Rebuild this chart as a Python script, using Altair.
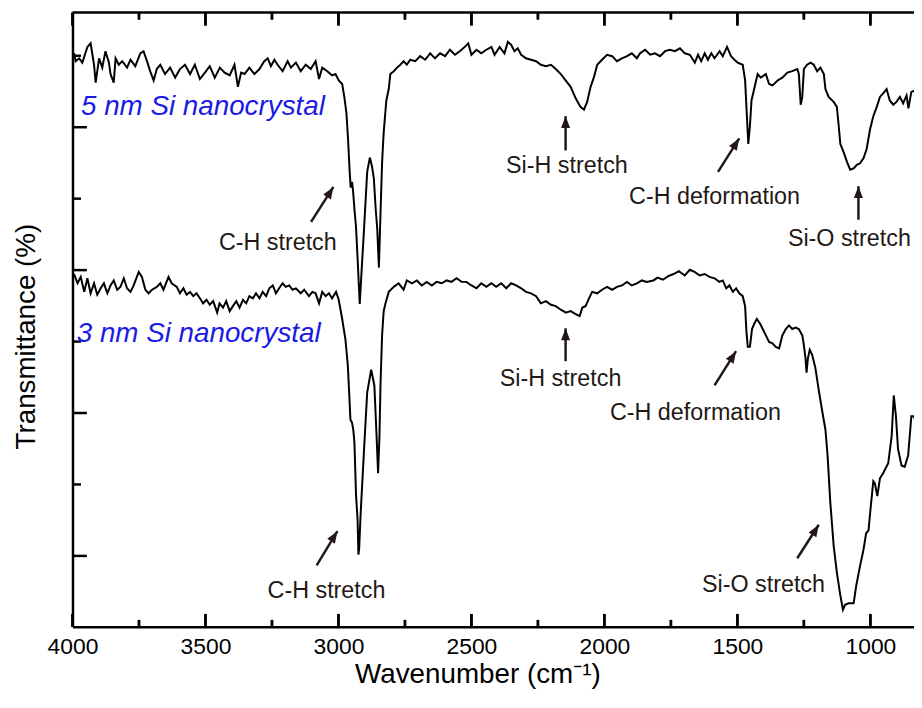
import altair as alt
import pandas as pd

# ---------------- data ----------------
wn_5nm = [3994, 3988, 3975, 3963, 3944, 3932, 3919, 3913, 3900, 3888, 3876, 3863, 3857, 3845, 3838, 3826,
          3813, 3795, 3782, 3764, 3745, 3733, 3720, 3708, 3695, 3683, 3670, 3652, 3633, 3614, 3596, 3577,
          3558, 3540, 3521, 3502, 3484, 3465, 3446, 3428, 3409, 3391, 3378, 3366, 3353, 3335, 3316, 3297,
          3279, 3266, 3254, 3241, 3229, 3210, 3191, 3179, 3160, 3142, 3123, 3104, 3086, 3073, 3061, 3042,
          3024, 3011, 2999, 2986, 2978, 2970, 2964, 2958, 2954, 2949, 2945, 2940, 2934, 2928, 2920, 2912,
          2904, 2892, 2882, 2874, 2867, 2860, 2854, 2848, 2842, 2836, 2830, 2820, 2811, 2805, 2792, 2780,
          2767, 2755, 2743, 2730, 2711, 2693, 2674, 2655, 2637, 2618, 2599, 2581, 2562, 2544, 2525, 2512,
          2500, 2481, 2463, 2444, 2425, 2413, 2394, 2376, 2363, 2351, 2338, 2326, 2313, 2295, 2276, 2257,
          2239, 2220, 2201, 2183, 2164, 2146, 2127, 2108, 2090, 2077, 2065, 2052, 2040, 2027, 2009, 1990,
          1971, 1953, 1934, 1915, 1897, 1878, 1866, 1847, 1828, 1810, 1791, 1772, 1754, 1735, 1716, 1698,
          1679, 1660, 1648, 1636, 1623, 1611, 1598, 1586, 1567, 1555, 1539, 1524, 1511, 1499, 1480, 1471,
          1465, 1459, 1453, 1447, 1437, 1424, 1412, 1393, 1381, 1368, 1349, 1331, 1312, 1294, 1275, 1269,
          1262, 1256, 1250, 1238, 1225, 1213, 1200, 1188, 1175, 1169, 1157, 1138, 1126, 1119, 1113, 1101,
          1088, 1076, 1063, 1051, 1039, 1026, 1014, 1001, 989, 976, 964, 952, 939, 927, 914, 902,
          889, 877, 864, 857, 846, 832]
t_5nm = [80.3, 79.2, 79.6, 79.0, 81.2, 81.7, 78.7, 76.2, 79.6, 78.3, 80.6, 79.0, 77.4, 76.2, 79.6, 78.7,
         79.2, 78.3, 79.4, 78.5, 80.3, 80.6, 79.2, 77.8, 76.5, 78.1, 78.7, 77.4, 78.3, 76.9, 78.1, 78.7,
         77.4, 78.7, 76.7, 77.6, 78.5, 76.9, 78.3, 77.6, 77.2, 78.7, 75.6, 77.6, 77.4, 78.3, 77.4, 78.1,
         79.2, 79.6, 78.5, 79.4, 78.7, 77.8, 79.2, 78.3, 79.0, 77.8, 78.7, 78.1, 79.2, 76.7, 78.3, 77.8,
         77.2, 77.4, 76.5, 76.0, 74.2, 71.9, 68.3, 63.8, 61.5, 62.3, 61.0, 58.5, 56.0, 51.5, 45.2, 50.5,
         55.6, 63.7, 65.7, 64.5, 62.8, 58.5, 55.6, 50.3, 57.8, 65.0, 69.2, 73.7, 75.3, 77.4, 77.8, 78.3,
         78.7, 79.2, 78.7, 79.4, 79.2, 79.9, 79.4, 80.3, 79.6, 80.3, 79.9, 80.8, 80.1, 80.6, 81.2, 81.7,
         80.1, 80.8, 80.3, 80.8, 81.2, 80.1, 81.2, 80.3, 81.9, 81.5, 80.6, 81.0, 80.1, 79.6, 79.4, 79.2,
         78.7, 78.5, 78.7, 78.1, 77.4, 76.5, 75.6, 74.0, 72.8, 72.4, 73.5, 75.6, 76.9, 78.7, 79.4, 80.1,
         79.9, 79.2, 79.6, 79.9, 80.3, 79.6, 80.3, 80.8, 80.1, 80.3, 79.9, 80.6, 80.8, 80.6, 81.0, 80.3,
         80.1, 79.0, 80.1, 79.2, 80.3, 79.4, 80.3, 79.6, 80.6, 79.9, 81.2, 79.9, 79.4, 79.0, 78.7, 76.5,
         72.0, 67.6, 70.1, 73.7, 75.3, 77.4, 76.9, 77.4, 76.0, 75.8, 76.5, 76.9, 77.6, 77.8, 78.1, 77.4,
         73.1, 74.2, 78.1, 78.7, 79.0, 78.7, 77.8, 78.3, 77.4, 75.3, 74.2, 73.5, 72.8, 70.1, 67.6, 66.5,
         65.1, 64.0, 64.2, 64.7, 64.9, 65.6, 66.9, 69.7, 71.5, 72.8, 74.2, 74.7, 75.3, 73.7, 73.1, 73.5,
         74.2, 73.3, 74.4, 72.6, 74.9, 75.1]

wn_3nm = [3994, 3981, 3969, 3956, 3944, 3932, 3919, 3907, 3894, 3882, 3869, 3857, 3845, 3832, 3820, 3807,
          3795, 3782, 3770, 3751, 3739, 3726, 3714, 3701, 3683, 3670, 3658, 3639, 3627, 3608, 3596, 3583,
          3571, 3558, 3546, 3534, 3521, 3509, 3496, 3484, 3471, 3456, 3447, 3434, 3422, 3409, 3397, 3384,
          3372, 3359, 3347, 3335, 3322, 3310, 3297, 3285, 3272, 3260, 3247, 3235, 3223, 3210, 3198, 3185,
          3173, 3160, 3142, 3129, 3111, 3098, 3086, 3073, 3061, 3048, 3036, 3024, 3009, 2999, 2986, 2974,
          2965, 2959, 2955, 2949, 2944, 2940, 2934, 2928, 2925, 2922, 2917, 2904, 2892, 2877, 2865, 2857,
          2851, 2846, 2842, 2836, 2830, 2823, 2811, 2792, 2774, 2755, 2743, 2724, 2705, 2687, 2668, 2649,
          2631, 2612, 2593, 2575, 2556, 2537, 2519, 2500, 2481, 2463, 2444, 2425, 2407, 2388, 2369, 2351,
          2332, 2313, 2295, 2276, 2257, 2239, 2220, 2201, 2183, 2164, 2145, 2127, 2108, 2093, 2083, 2071,
          2058, 2046, 2027, 2009, 1990, 1971, 1953, 1934, 1915, 1897, 1878, 1859, 1841, 1816, 1800, 1780,
          1760, 1740, 1720, 1698, 1679, 1661, 1642, 1623, 1605, 1586, 1568, 1555, 1542, 1530, 1517, 1505,
          1493, 1480, 1471, 1466, 1461, 1453, 1445, 1437, 1427, 1414, 1402, 1393, 1381, 1368, 1356, 1343,
          1331, 1318, 1306, 1294, 1281, 1269, 1256, 1250, 1244, 1240, 1235, 1228, 1219, 1207, 1194, 1182,
          1169, 1161, 1151, 1138, 1126, 1113, 1103, 1095, 1082, 1063, 1053, 1039, 1026, 1016, 1007, 999,
          989, 983, 974, 964, 952, 933, 920, 912, 904, 896, 883, 871, 858, 846, 837, 832]
t_3nm = [49.4, 48.1, 49.0, 46.9, 48.8, 46.7, 48.1, 46.5, 47.4, 48.1, 46.7, 47.8, 48.5, 47.2, 47.6, 48.8,
         47.4, 46.9, 47.8, 49.7, 49.0, 47.2, 46.7, 47.2, 47.6, 48.1, 47.2, 49.0, 48.1, 47.6, 46.7, 47.4,
         46.5, 46.9, 46.3, 46.7, 46.0, 45.3, 45.8, 45.1, 45.6, 44.0, 45.3, 44.7, 45.6, 44.2, 44.9, 45.6,
         44.7, 45.8, 45.3, 46.3, 46.0, 46.7, 46.0, 46.9, 46.3, 47.4, 47.8, 46.7, 47.4, 48.1, 47.6, 47.8,
         47.2, 47.4, 46.7, 47.2, 46.3, 46.9, 46.7, 45.3, 46.9, 46.3, 46.7, 46.0, 46.9, 45.8, 43.1, 40.3,
         36.7, 32.2, 29.0, 28.6, 27.5, 25.8, 18.5, 14.9, 10.1, 11.0, 15.6, 24.7, 32.8, 36.0, 33.8, 27.0,
         21.5, 26.5, 33.8, 40.8, 44.2, 45.3, 46.9, 47.6, 48.1, 47.2, 48.5, 48.1, 48.5, 47.8, 48.3, 47.8,
         48.3, 48.1, 48.5, 48.3, 48.8, 48.3, 48.3, 47.8, 47.4, 48.1, 47.6, 48.1, 47.6, 48.1, 47.4, 48.1,
         47.8, 47.4, 46.9, 46.7, 46.3, 45.3, 45.6, 45.1, 44.9, 44.4, 44.0, 44.2, 43.8, 43.5, 44.7, 44.9,
         46.0, 46.9, 46.7, 47.2, 47.6, 47.2, 47.6, 47.8, 48.3, 47.8, 48.1, 48.5, 48.3, 48.5, 48.9, 48.6,
         49.1, 49.4, 49.8, 49.2, 50.0, 49.7, 49.2, 49.4, 49.0, 48.8, 48.3, 48.5, 47.4, 47.8, 46.9, 47.4,
         46.7, 46.3, 44.9, 41.3, 39.2, 39.2, 41.7, 42.4, 43.1, 42.4, 41.5, 40.8, 39.9, 39.7, 39.2, 39.0,
         40.8, 41.7, 42.2, 41.7, 41.9, 41.7, 40.8, 39.4, 37.6, 35.6, 37.6, 38.8, 38.1, 36.3, 33.1, 30.4,
         27.6, 24.0, 17.6, 11.3, 7.6, 4.4, 2.4, 3.1, 3.3, 3.3, 5.8, 8.5, 10.8, 13.1, 13.5, 16.7,
         20.4, 20.1, 18.3, 20.8, 21.5, 22.9, 26.7, 32.4, 29.5, 24.9, 22.6, 22.4, 24.0, 29.5, 29.5, 29.0]

x_major = [4000, 3500, 3000, 2500, 2000, 1500, 1000]
x_minor = [3750, 3250, 2750, 2250, 1750, 1250]
y_major = [10, 30, 50, 70]
y_minor = [20, 40, 60, 80]

label_text = ["C-H stretch", "Si-H stretch", "C-H deformation", "Si-O stretch",
              "C-H stretch", "Si-H stretch", "C-H deformation", "Si-O stretch"]
label_wn = [3228, 2141, 1586, 1079, 3045, 2165, 1658, 1402]
label_t = [52.7, 63.6, 59.2, 53.3, 4.1, 33.7, 29.0, 4.9]

sample_text = ["5 nm Si nanocrystal", "3 nm Si nanocrystal"]
sample_wn = [3968, 3984]
sample_t = [71.7, 39.9]

diag_tail_wn = [3103, 1573, 3082, 1586, 1275]
diag_tail_t = [56.7, 63.7, 8.6, 33.8, 9.6]
diag_head_wn = [3019, 1493, 3004, 1505, 1194]
diag_head_t = [61.6, 68.4, 13.4, 38.6, 14.3]

vert_wn = [2146, 1045, 2146]
vert_tail_t = [66.7, 57.0, 37.2]
vert_head_t = [71.5, 61.7, 41.8]

# ---------------- chart ----------------
W, H = 848, 619
Y_MIN, Y_MAX = 0, 86
FONT = "Liberation Sans"
INK = "#231815"
PX = (Y_MAX - Y_MIN) / H  # y units per pixel, used only for tick lengths

spectra = pd.concat([
    pd.DataFrame({"wn": wn_5nm, "T": t_5nm, "series": "5 nm"}),
    pd.DataFrame({"wn": wn_3nm, "T": t_3nm, "series": "3 nm"}),
])

xs = alt.Scale(domain=[836, 4000], reverse=True, nice=False, zero=False)
ys = alt.Scale(domain=[Y_MIN, Y_MAX], nice=False, zero=False)

main_x_axis = alt.Axis(orient="bottom", values=x_major, format="d", ticks=False, grid=False,
                       labelFontSize=23, labelFont=FONT, labelColor="black", labelPadding=9,
                       labelFlush=False, domainColor="black", domainWidth=2.5,
                       title="Wavenumber (cm⁻¹)", titleFont=FONT, titleFontSize=28,
                       titleFontWeight="normal", titleColor="black", titleX=408, titleY=56,
                       titleBaseline="alphabetic", titleAlign="center")
main_y_axis = alt.Axis(orient="left", labels=False, ticks=False, grid=False,
                       domainColor="black", domainWidth=2.5,
                       title="Transmittance (%)", titleFont=FONT, titleFontSize=28,
                       titleFontWeight="normal", titleColor="black", titleX=-38, titleY=326,
                       titleAngle=270, titleBaseline="alphabetic", titleAlign="center")

lines = alt.Chart(spectra).mark_line(color="black", strokeWidth=2, clip=True).encode(
    x=alt.X("wn:Q", scale=xs, axis=main_x_axis),
    y=alt.Y("T:Q", scale=ys, axis=main_y_axis),
    detail="series:N",
)

# frame: x tick segments and top line (x, x2, y, y2 all fields)
tick_rows = []
for vals, length in ((x_major, 13), (x_minor, 7)):
    for v in vals:
        tick_rows.append({"wn": v, "wn2": v, "t": Y_MIN, "t2": Y_MIN + length * PX})
        tick_rows.append({"wn": v, "wn2": v, "t": Y_MAX, "t2": Y_MAX - length * PX})
tick_rows.append({"wn": 836, "wn2": 4000, "t": Y_MAX, "t2": Y_MAX})  # top frame line
frame_df = pd.DataFrame(tick_rows)

frame = alt.Chart(frame_df).mark_rule(color="black", strokeWidth=2.5).encode(
    x=alt.X("wn:Q", scale=xs, axis=None),
    y=alt.Y("t:Q", scale=ys, axis=None),
    x2="wn2:Q",
    y2="t2:Q",
)


# x ticks also drawn as stroked symbols (a short vertical path anchored on the frame edge)
def x_tick_symbols(vals, base, length, up):
    d = pd.DataFrame({"wn": vals})
    d["t"] = base
    shape = "M0,0L0,-1" if up else "M0,0L0,1"
    return alt.Chart(d).mark_point(shape=shape, filled=False, size=(2 * length) ** 2,
                                   color="black", opacity=1, strokeWidth=2.5).encode(
        x=alt.X("wn:Q", scale=xs, axis=None),
        y=alt.Y("t:Q", scale=ys, axis=None),
    )


tick_symbols = [
    x_tick_symbols(x_major, Y_MIN, 13, True),
    x_tick_symbols(x_minor, Y_MIN, 7, True),
    x_tick_symbols(x_major, Y_MAX, 13, False),
    x_tick_symbols(x_minor, Y_MAX, 7, False),
]


def y_ticks(vals, size):
    d = pd.DataFrame({"T": vals})
    ax = alt.Axis(orient="right", offset=-W, values=vals, tickSize=size, tickWidth=2.5,
                  tickColor="black", labels=False, domain=False, grid=False, title=None)
    return alt.Chart(d).mark_point(opacity=0).encode(y=alt.Y("T:Q", scale=ys, axis=ax))


labels_df = pd.DataFrame({"text": label_text, "wn": label_wn, "t": label_t})
labels = alt.Chart(labels_df).mark_text(font=FONT, fontSize=23.5, color=INK, align="center",
                                        baseline="alphabetic").encode(
    x=alt.X("wn:Q", scale=xs, axis=None),
    y=alt.Y("t:Q", scale=ys, axis=None),
    text="text:N",
)

samples_df = pd.DataFrame({"text": sample_text, "wn": sample_wn, "t": sample_t})
samples = alt.Chart(samples_df).mark_text(font=FONT, fontSize=28, fontStyle="italic",
                                          color="#1a1ae6", align="left",
                                          baseline="alphabetic").encode(
    x=alt.X("wn:Q", scale=xs, axis=None),
    y=alt.Y("t:Q", scale=ys, axis=None),
    text="text:N",
)

diag_df = pd.DataFrame({"wn": diag_tail_wn, "t": diag_tail_t, "wn2": diag_head_wn, "t2": diag_head_t})
vert_df = pd.DataFrame({"wn": vert_wn, "t": vert_tail_t, "wn2": vert_wn, "t2": vert_head_t})
HEAD = "M0,0L-0.38,1L0.38,1Z"


def arrows(df, angle):
    shaft = alt.Chart(df).mark_rule(color=INK, strokeWidth=2.5).encode(
        x=alt.X("wn:Q", scale=xs, axis=None),
        y=alt.Y("t:Q", scale=ys, axis=None),
        x2="wn2:Q",
        y2="t2:Q",
    )
    head = alt.Chart(df).mark_point(shape=HEAD, filled=True, size=576, color=INK, opacity=1,
                                    angle=angle, strokeWidth=0).encode(
        x=alt.X("wn2:Q", scale=xs, axis=None),
        y=alt.Y("t2:Q", scale=ys, axis=None),
    )
    return [shaft, head]


chart = alt.layer(
    lines, frame, *tick_symbols, y_ticks(y_major, 14), y_ticks(y_minor, 8), labels, samples,
    *arrows(diag_df, 32), *arrows(vert_df, 0)
).resolve_axis(
    x="independent", y="independent"
).properties(
    width=W, height=H,
    autosize=alt.AutoSizeParams(type="none"),
    padding={"left": 65, "top": 2, "right": 0, "bottom": 62},
).configure_view(stroke=None)

chart.save("out.html", embed_options={"renderer": "svg", "actions": False})
